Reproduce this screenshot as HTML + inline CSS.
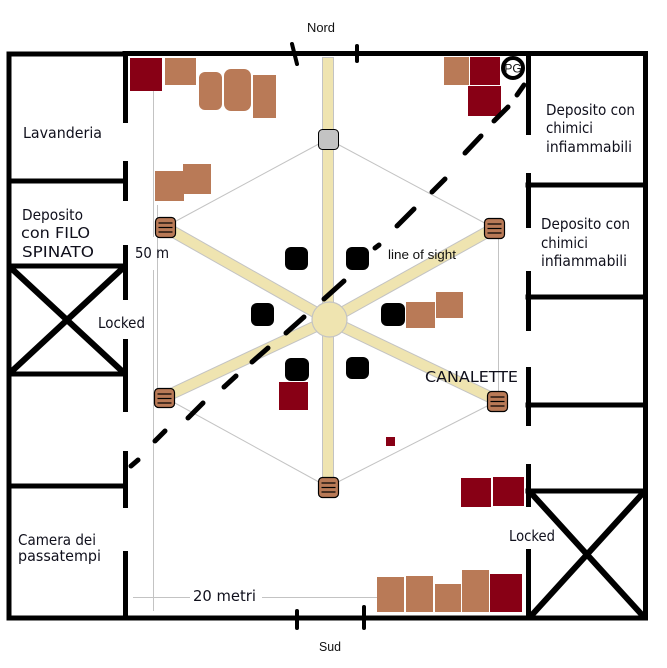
<!DOCTYPE html>
<html><head><meta charset="utf-8"><style>
html,body{margin:0;padding:0;background:#fff;}
svg{display:block;}
.h{font-family:"DejaVu Sans","Liberation Sans",sans-serif;font-size:15px;fill:#10101c;}
.s{font-family:"Liberation Sans","DejaVu Sans",sans-serif;fill:#111;}
</style></head><body>
<svg width="667" height="668" viewBox="0 0 667 668" xmlns="http://www.w3.org/2000/svg">
<rect width="667" height="668" fill="#fff"/>

<!-- dimension lines -->
<g stroke="#c3c3c3" stroke-width="1">
<line x1="153.5" y1="91" x2="153.5" y2="237"/>
<line x1="153.5" y1="270" x2="153.5" y2="611"/>
<line x1="133" y1="597.5" x2="190" y2="597.5"/>
<line x1="262" y1="597.5" x2="378" y2="597.5"/>
</g>

<!-- hexagon thin lines -->
<g stroke="#c3c3c3" stroke-width="1" fill="none">
<line x1="328" y1="139" x2="165" y2="227"/>
<line x1="328" y1="139" x2="494" y2="228"/>
<line x1="498.5" y1="228" x2="498.5" y2="401"/>
<line x1="157.5" y1="205" x2="157.5" y2="400"/>
<line x1="164" y1="397" x2="328" y2="487"/>
<line x1="328" y1="487" x2="497" y2="401"/>
</g>

<!-- beige spokes -->
<g stroke="#c3c3c3" stroke-width="12" stroke-linecap="butt">
<line x1="328" y1="57" x2="328" y2="320"/>
<line x1="328" y1="320" x2="328" y2="480"/>
<line x1="329" y1="320" x2="170" y2="230"/>
<line x1="329" y1="320" x2="489" y2="231"/>
<line x1="329" y1="320" x2="169" y2="395"/>
<line x1="329" y1="320" x2="492" y2="398"/>
</g>
<g stroke="#efe4b0" stroke-width="10" stroke-linecap="butt">
<line x1="328" y1="58" x2="328" y2="320"/>
<line x1="328" y1="320" x2="328" y2="479"/>
<line x1="329" y1="320" x2="170" y2="230"/>
<line x1="329" y1="320" x2="489" y2="231"/>
<line x1="329" y1="320" x2="169" y2="395"/>
<line x1="329" y1="320" x2="492" y2="398"/>
</g>
<circle cx="329.5" cy="319.5" r="17.5" fill="#efe4b0" stroke="#c3c3c3" stroke-width="1.2"/>

<!-- gray node -->
<rect x="318.5" y="129.5" width="20" height="20" rx="4" fill="#c3c3c3" stroke="#000" stroke-width="1"/>

<!-- brown nodes -->
<g stroke="#000" stroke-width="1.2">
<g transform="translate(155.5,217.5)"><rect width="20" height="20" rx="4" fill="#b97a57"/><line x1="3" y1="5.5" x2="17" y2="5.5"/><line x1="3" y1="10" x2="17" y2="10"/><line x1="3" y1="14.5" x2="17" y2="14.5"/></g>
<g transform="translate(484.5,218.5)"><rect width="20" height="20" rx="4" fill="#b97a57"/><line x1="3" y1="5.5" x2="17" y2="5.5"/><line x1="3" y1="10" x2="17" y2="10"/><line x1="3" y1="14.5" x2="17" y2="14.5"/></g>
<g transform="translate(154.5,388.5)"><rect width="20" height="19" rx="4" fill="#b97a57"/><line x1="3" y1="5.5" x2="17" y2="5.5"/><line x1="3" y1="10" x2="17" y2="10"/><line x1="3" y1="14.5" x2="17" y2="14.5"/></g>
<g transform="translate(487.5,391.5)"><rect width="20" height="20" rx="4" fill="#b97a57"/><line x1="3" y1="5.5" x2="17" y2="5.5"/><line x1="3" y1="10" x2="17" y2="10"/><line x1="3" y1="14.5" x2="17" y2="14.5"/></g>
<g transform="translate(318.5,477.5)"><rect width="20" height="20" rx="4" fill="#b97a57"/><line x1="3" y1="5.5" x2="17" y2="5.5"/><line x1="3" y1="10" x2="17" y2="10"/><line x1="3" y1="14.5" x2="17" y2="14.5"/></g>
</g>

<!-- black rounded squares -->
<g fill="#000">
<rect x="285" y="247" width="23" height="23" rx="6"/>
<rect x="346" y="247" width="23" height="23" rx="6"/>
<rect x="251" y="303" width="23" height="23" rx="6"/>
<rect x="381" y="303" width="24" height="23" rx="6"/>
<rect x="285" y="358" width="24" height="23" rx="6"/>
<rect x="346" y="357" width="23" height="22" rx="6"/>
</g>

<!-- furniture brown -->
<g fill="#b97a57">
<rect x="165" y="58" width="31" height="27"/>
<rect x="199" y="72" width="23" height="38" rx="6"/>
<rect x="224" y="69" width="27" height="42" rx="7"/>
<rect x="253" y="75" width="23" height="43"/>
<rect x="155" y="171" width="29" height="30"/>
<rect x="183" y="164" width="28" height="30"/>
<rect x="444" y="57" width="25" height="28"/>
<rect x="406" y="302" width="29" height="26"/>
<rect x="436" y="292" width="27" height="26"/>
<rect x="377" y="577" width="27" height="35"/>
<rect x="406" y="576" width="27" height="36"/>
<rect x="435" y="584" width="26" height="28"/>
<rect x="462" y="570" width="27" height="42"/>
</g>
<!-- furniture dark red -->
<g fill="#880015">
<rect x="130" y="58" width="32" height="33"/>
<rect x="470" y="57" width="30" height="28"/>
<rect x="468" y="86" width="33" height="30"/>
<rect x="279" y="382" width="29" height="28"/>
<rect x="386" y="437" width="9" height="9"/>
<rect x="461" y="478" width="30" height="29"/>
<rect x="493" y="477" width="31" height="29"/>
<rect x="490" y="574" width="32" height="38"/>
</g>
<line x1="470" y1="85.5" x2="500" y2="85.5" stroke="#fff" stroke-width="1" stroke-dasharray="5 2"/>

<!-- PG -->
<circle cx="513" cy="68" r="10" fill="#fff" stroke="#000" stroke-width="4"/>
<text x="513" y="72.5" text-anchor="middle" class="s" font-size="12">PG</text>

<!-- walls -->
<g stroke="#000" stroke-width="5" stroke-linecap="square" fill="none">
<line x1="9" y1="54" x2="125" y2="54"/>
<line x1="125" y1="53.5" x2="645" y2="53.5"/>
<line x1="9" y1="54" x2="9" y2="618"/>
<line x1="9" y1="618" x2="645" y2="618"/>
<line x1="645.5" y1="53.5" x2="645.5" y2="618"/>
<line x1="9" y1="181" x2="125" y2="181"/>
<line x1="9" y1="266" x2="125" y2="266"/>
<line x1="9" y1="374" x2="125" y2="374"/>
<line x1="9" y1="486" x2="125" y2="486"/>
<line x1="528" y1="185" x2="645" y2="185"/>
<line x1="528" y1="297" x2="645" y2="297"/>
<line x1="528" y1="405" x2="645" y2="405"/>
<line x1="528" y1="491" x2="645" y2="491"/>
</g>
<g stroke="#000" stroke-width="5" stroke-linecap="butt">
<line x1="125.5" y1="52" x2="125.5" y2="123"/>
<line x1="125.5" y1="161" x2="125.5" y2="201"/>
<line x1="125.5" y1="245" x2="125.5" y2="300"/>
<line x1="125.5" y1="339" x2="125.5" y2="412"/>
<line x1="125.5" y1="451" x2="125.5" y2="508"/>
<line x1="125.5" y1="551" x2="125.5" y2="620"/>
<line x1="528.5" y1="52" x2="528.5" y2="135"/>
<line x1="528.5" y1="173" x2="528.5" y2="228"/>
<line x1="528.5" y1="271" x2="528.5" y2="331"/>
<line x1="528.5" y1="367" x2="528.5" y2="426"/>
<line x1="528.5" y1="464" x2="528.5" y2="507"/>
<line x1="528.5" y1="549" x2="528.5" y2="620"/>
</g>
<g stroke="#000" stroke-width="6">
<line x1="11" y1="268" x2="123" y2="372"/>
<line x1="123" y1="268" x2="11" y2="372"/>
<line x1="531" y1="493" x2="643" y2="616"/>
<line x1="643" y1="493" x2="531" y2="616"/>
</g>

<!-- door ticks -->
<g stroke="#000" stroke-width="4" stroke-linecap="round">
<line x1="292" y1="44" x2="297" y2="64"/>
<line x1="357" y1="46" x2="357" y2="61"/>
<line x1="297" y1="611" x2="297" y2="628"/>
<line x1="364" y1="607" x2="364" y2="628"/>
</g>

<!-- line of sight dashes -->
<g stroke="#000" stroke-width="5" stroke-linecap="round">
<line x1="517" y1="95" x2="524" y2="85"/>
<line x1="494" y1="121" x2="508" y2="107"/>
<line x1="465" y1="153" x2="481" y2="136"/>
<line x1="432" y1="192" x2="445" y2="179"/>
<line x1="397" y1="226" x2="414" y2="209"/>
<line x1="375" y1="248" x2="379" y2="245"/>
<line x1="324" y1="299" x2="344" y2="281"/>
<line x1="286" y1="333" x2="304" y2="317"/>
<line x1="252" y1="362" x2="268" y2="348"/>
<line x1="224" y1="387" x2="236" y2="376"/>
<line x1="188" y1="418" x2="203" y2="403"/>
<line x1="155" y1="441" x2="165" y2="431"/>
<line x1="131" y1="466" x2="138" y2="460"/>
</g>

<!-- handwritten labels -->
<text class="h" x="23" y="138" textLength="79" lengthAdjust="spacingAndGlyphs">Lavanderia</text>
<text class="h" x="22" y="220" textLength="61" lengthAdjust="spacingAndGlyphs">Deposito</text>
<text class="h" x="21" y="238" textLength="69" lengthAdjust="spacingAndGlyphs">con FILO</text>
<text class="h" x="22" y="257" textLength="72" lengthAdjust="spacingAndGlyphs">SPINATO</text>
<text class="h" x="135" y="258" textLength="34" lengthAdjust="spacingAndGlyphs">50 m</text>
<text class="h" x="98" y="328" textLength="47" lengthAdjust="spacingAndGlyphs">Locked</text>
<text class="h" x="18" y="545" textLength="78" lengthAdjust="spacingAndGlyphs">Camera dei</text>
<text class="h" x="18" y="561" textLength="83" lengthAdjust="spacingAndGlyphs">passatempi</text>
<text class="h" x="193" y="601" textLength="63" lengthAdjust="spacingAndGlyphs">20 metri</text>
<text class="h" x="546" y="115" textLength="89" lengthAdjust="spacingAndGlyphs">Deposito con</text>
<text class="h" x="546" y="133" textLength="47" lengthAdjust="spacingAndGlyphs">chimici</text>
<text class="h" x="546" y="152" textLength="86" lengthAdjust="spacingAndGlyphs">infiammabili</text>
<text class="h" x="541" y="229" textLength="89" lengthAdjust="spacingAndGlyphs">Deposito con</text>
<text class="h" x="541" y="248" textLength="47" lengthAdjust="spacingAndGlyphs">chimici</text>
<text class="h" x="541" y="266" textLength="86" lengthAdjust="spacingAndGlyphs">infiammabili</text>
<text class="h" x="425" y="382" textLength="93" lengthAdjust="spacingAndGlyphs">CANALETTE</text>
<text class="h" x="509" y="541" textLength="46" lengthAdjust="spacingAndGlyphs">Locked</text>

<!-- plain labels -->
<text class="s" x="388" y="259" font-size="13" textLength="68" lengthAdjust="spacingAndGlyphs">line of sight</text>
<text class="s" x="307" y="32" font-size="13" textLength="28" lengthAdjust="spacingAndGlyphs">Nord</text>
<text class="s" x="319" y="651" font-size="13" textLength="22" lengthAdjust="spacingAndGlyphs">Sud</text>
</svg>
</body></html>
